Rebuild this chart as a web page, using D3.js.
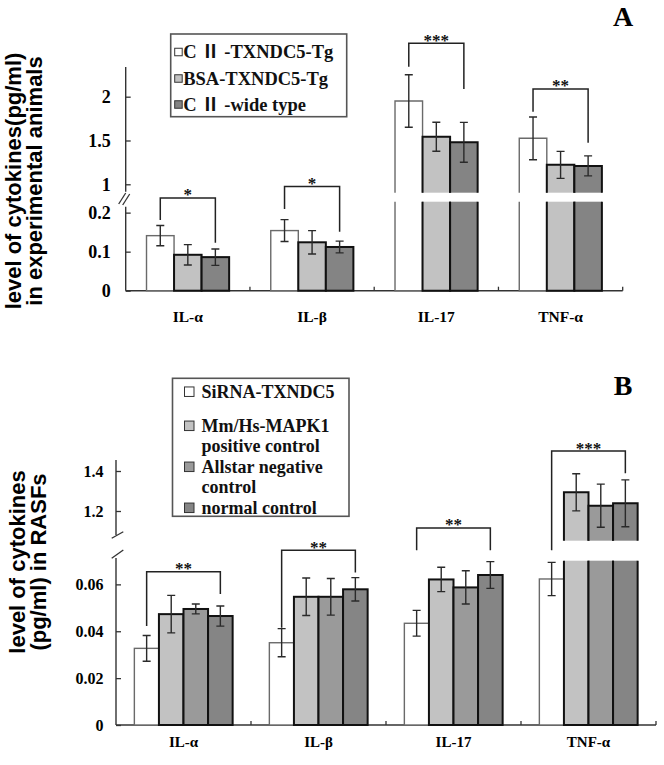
<!DOCTYPE html>
<html><head><meta charset="utf-8">
<script src="https://cdn.jsdelivr.net/npm/d3@7"></script>
<style>body{margin:0;background:#fff}svg{display:block}</style>
</head><body>
<svg id="chart" width="664" height="765"></svg>
<script>
// ---------------- DATA ----------------
const categories = ["IL-α", "IL-β", "IL-17", "TNF-α"];

// Panel A
const seriesA = ["C Ⅱ -TXNDC5-Tg", "BSA-TXNDC5-Tg", "C Ⅱ -wide type"];
const valuesA_TXNDC5Tg = [0.141, 0.154, 1.951, 1.525];
const valuesA_BSA      = [0.092, 0.124, 1.543, 1.222];
const valuesA_wild     = [0.086, 0.112, 1.479, 1.210];
const errorsA_TXNDC5Tg = [0.026, 0.028, 0.300, 0.244];
const errorsA_BSA      = [0.026, 0.030, 0.166, 0.154];
const errorsA_wild     = [0.021, 0.015, 0.228, 0.114];
const ticksA_low  = [0, 0.1, 0.2];
const tickLabelsA_low  = ["0", "0.1", "0.2"];
const ticksA_high = [1, 1.5, 2];
const tickLabelsA_high = ["1", "1.5", "2"];
const sigA = ["*", "*", "***", "**"];
const bracketTopA   = [0.2377, 0.2667, 2.61, 2.088];
const bracketLeftA  = [0.181, 0.2095, 2.342, 1.829];
const bracketRightA = [0.123, 0.151, 2.088, 1.475];

// Panel B
const legendLinesB = [["SiRNA-TXNDC5"], ["Mm/Hs-MAPK1", "positive control"], ["Allstar negative", "control"], ["normal control"]];
const valuesB_siRNA    = [0.0327, 0.0351, 0.0434, 0.0623];
const valuesB_MAPK1    = [0.0473, 0.0547, 0.0621, 1.2935];
const valuesB_allstar  = [0.0495, 0.0547, 0.0587, 1.2265];
const valuesB_normal   = [0.0465, 0.0579, 0.0640, 1.2385];
const errorsB_siRNA    = [0.0055, 0.0060, 0.0055, 0.0071];
const errorsB_MAPK1    = [0.0080, 0.0080, 0.0052, 0.093];
const errorsB_allstar  = [0.0021, 0.0078, 0.0071, 0.108];
const errorsB_normal   = [0.0043, 0.0050, 0.0057, 0.117];
const ticksB_low  = [0, 0.02, 0.04, 0.06];
const tickLabelsB_low  = ["0", "0.02", "0.04", "0.06"];
const ticksB_high = [1.2, 1.4];
const tickLabelsB_high = ["1.2", "1.4"];
const sigB = ["**", "**", "**", "***"];
const bracketTopB   = [0.0654, 0.0746, 0.0841, 1.5];
const bracketLeftB  = [0.0422, 0.0415, 0.0746, 0.0746];
const bracketRightB = [0.0559, 0.0651, 0.0746, 1.3885];

// ---------------- DRAWING ----------------
const svg = d3.select("#chart");
const SERIF = "'Liberation Serif','Times New Roman','Noto Sans CJK SC',serif";
const SANS = "'Liberation Sans',Arial,sans-serif";

function drawPanel(c) {
  const g = svg.append("g");
  const x = d3.scaleBand().domain(categories).range(c.xRange)
    .paddingInner(c.padInner).paddingOuter(c.padInner / 2);
  const xi = d3.scaleBand().domain(d3.range(c.values.length)).range([0, x.bandwidth()]);
  const yLow = d3.scaleLinear().domain(c.lowDomain).range(c.lowRange);
  const yHigh = d3.scaleLinear().domain(c.highDomain).range(c.highRange);
  const split = (c.lowDomain[1] + c.highDomain[0]) / 2;
  const yv = v => v < split ? yLow(v) : yHigh(v);
  const y0 = yLow(0);

  // y axes
  const axL = g.append("g").attr("transform", `translate(${c.xRange[0]},0)`)
    .call(d3.axisLeft(yLow).tickValues(c.ticksLow).tickFormat((d, i) => c.tickLabelsLow[i])
      .tickSize(-5).tickSizeOuter(0).tickPadding(c.tickPad));
  const axH = g.append("g").attr("transform", `translate(${c.xRange[0]},0)`)
    .call(d3.axisLeft(yHigh).tickValues(c.ticksHigh).tickFormat((d, i) => c.tickLabelsHigh[i])
      .tickSize(-5).tickSizeOuter(0).tickPadding(c.tickPad));
  [axL, axH].forEach(a => {
    a.select(".domain").remove();
    a.selectAll(".tick line").attr("stroke", "#333").attr("stroke-width", 1.3);
    a.selectAll(".tick text").attr("fill", "#000").style("font-family", SERIF)
      .style("font-weight", "bold").style("font-size", c.tickFont + "px");
  });
  const ax = c.xRange[0];
  g.append("line").attr("x1", ax).attr("x2", ax).attr("y1", c.highRange[1]).attr("y2", c.axisHighEnd)
    .attr("stroke", "#333").attr("stroke-width", 1.4);
  g.append("line").attr("x1", ax).attr("x2", ax).attr("y1", c.axisLowStart).attr("y2", y0)
    .attr("stroke", "#333").attr("stroke-width", 1.4);
  c.slashes.forEach(s => {
    g.append("line").attr("x1", ax + s[0]).attr("y1", s[1]).attr("x2", ax + s[2]).attr("y2", s[3])
      .attr("stroke", "#333").attr("stroke-width", 1.3);
  });

  // x axis line and boundary ticks
  g.append("line").attr("x1", c.xRange[0]).attr("x2", c.xRange[1]).attr("y1", y0).attr("y2", y0)
    .attr("stroke", "#333").attr("stroke-width", 1.4);
  categories.forEach(cat => {
    const bx = x(cat) + x.bandwidth() + x.step() * x.paddingInner() / 2;
    g.append("line").attr("x1", bx).attr("x2", bx).attr("y1", y0).attr("y2", y0 - 4)
      .attr("stroke", "#333").attr("stroke-width", 1.3);
  });
  const axB = g.append("g").attr("transform", `translate(0,${y0})`)
    .call(d3.axisBottom(x).tickSize(0).tickPadding(c.catPad));
  axB.select(".domain").remove();
  axB.selectAll(".tick text").attr("fill", "#000").style("font-family", SERIF)
    .style("font-weight", "bold").style("font-size", c.catFont + "px");

  // bars
  c.values.forEach((vals, j) => {
    categories.forEach((cat, i) => {
      const v = vals[i];
      const x0 = x(cat) + xi(j), w = xi.bandwidth();
      const stroke = j === 0 ? "#6a6a6a" : "#111";
      const sw = j === 0 ? 1.4 : 2;
      if (v < split) {
        g.append("rect").attr("x", x0).attr("y", yLow(v)).attr("width", w).attr("height", y0 - yLow(v))
          .attr("fill", c.colors[j]).attr("stroke", stroke).attr("stroke-width", sw);
      } else {
        const yt = yHigh(v), yb = c.highRange[0];
        g.append("rect").attr("x", x0).attr("y", yt).attr("width", w).attr("height", yb - yt).attr("fill", c.colors[j]);
        g.append("path").attr("d", `M${x0},${yb}V${yt}H${x0 + w}V${yb}`).attr("fill", "none")
          .attr("stroke", stroke).attr("stroke-width", sw);
        const lt = c.lowRange[1];
        g.append("rect").attr("x", x0).attr("y", lt).attr("width", w).attr("height", y0 - lt).attr("fill", c.colors[j]);
        g.append("path").attr("d", `M${x0},${lt}V${y0}H${x0 + w}V${lt}`).attr("fill", "none")
          .attr("stroke", stroke).attr("stroke-width", sw);
      }
    });
  });
  // error bars
  c.values.forEach((vals, j) => {
    categories.forEach((cat, i) => {
      const v = vals[i], e = c.errors[j][i];
      const cx = x(cat) + xi(j) + xi.bandwidth() / 2;
      const ya = yv(v + e), yb = yv(v - e);
      g.append("path").attr("d", `M${cx},${ya}V${yb}M${cx - 4},${ya}H${cx + 4}M${cx - 4},${yb}H${cx + 4}`)
        .attr("fill", "none").attr("stroke", "#2a2a2a").attr("stroke-width", 1.4);
    });
  });
  // significance brackets
  const nS = c.values.length;
  categories.forEach((cat, i) => {
    const xl = x(cat) + xi(0) + xi.bandwidth() / 2;
    const xr = x(cat) + xi(nS - 1) + xi.bandwidth() / 2;
    const yt = yv(c.bracketTop[i]);
    g.append("path").attr("d", `M${xl},${yv(c.bracketLeft[i])}V${yt}H${xr}V${yv(c.bracketRight[i])}`)
      .attr("fill", "none").attr("stroke", "#222").attr("stroke-width", 1.5);
    g.append("text").attr("x", (xl + xr) / 2).attr("y", yt + 2.5).attr("text-anchor", "middle")
      .style("font-family", SERIF).style("font-size", "17px").style("font-weight", "bold")
      .attr("fill", "#111").text(c.sig[i]);
  });

  // legend
  const L = c.legend;
  g.append("rect").attr("x", L.x).attr("y", L.y).attr("width", L.w).attr("height", L.h)
    .attr("fill", "#fff").attr("stroke", "#555").attr("stroke-width", 1.6);
  c.legendLines.forEach((lines, j) => {
    const cy = L.y + L.rowY[j];
    g.append("rect").attr("x", L.x + L.sqX).attr("y", cy - L.sq / 2).attr("width", L.sq).attr("height", L.sq)
      .attr("fill", c.colors[j]).attr("stroke", "#333").attr("stroke-width", 1);
    lines.forEach((t, k) => {
      g.append("text").attr("x", L.x + L.textX).attr("y", cy + k * L.lineGap + L.font * 0.33)
        .style("font-family", SERIF).style("font-weight", "bold").style("font-size", L.font + "px")
        .attr("fill", "#111").text(t);
    });
  });

  // y title
  const tt = g.append("text").attr("transform", `translate(0,${c.titleY}) rotate(-90)`)
    .attr("text-anchor", "middle").style("font-family", SANS).style("font-weight", "bold")
    .style("font-size", "22px").attr("fill", "#000");
  c.title.forEach((t, k) => tt.append("tspan").attr("x", 0).attr("y", c.titleX[k]).text(t));

  // panel letter
  g.append("text").attr("x", c.letterPos[0]).attr("y", c.letterPos[1]).attr("text-anchor", "middle")
    .style("font-family", SERIF).style("font-weight", "bold").style("font-size", "28px")
    .attr("fill", "#000").text(c.letter);
}

drawPanel({
  values: [valuesA_TXNDC5Tg, valuesA_BSA, valuesA_wild],
  errors: [errorsA_TXNDC5Tg, errorsA_BSA, errorsA_wild],
  colors: ["#ffffff", "#c2c2c2", "#848484"],
  xRange: [125.7, 622.7], padInner: 0.335,
  lowDomain: [0, 0.228], lowRange: [290.7, 201.7],
  highDomain: [0.904, 2.339], highRange: [192.7, 67],
  axisHighEnd: 191.7, axisLowStart: 206.7,
  slashes: [[-7, 204, 0, 193], [-3, 205, 4, 194]],
  ticksLow: ticksA_low, tickLabelsLow: tickLabelsA_low,
  ticksHigh: ticksA_high, tickLabelsHigh: tickLabelsA_high,
  tickPad: 15, tickFont: 18, catPad: 20, catFont: 15.5,
  sig: sigA, bracketTop: bracketTopA, bracketLeft: bracketLeftA, bracketRight: bracketRightA,
  legend: {x: 170.7, y: 34, w: 176, h: 82.7, rowY: [18, 44.5, 70.5], sq: 7.5, sqX: 4, textX: 12.5, font: 18.5, lineGap: 20},
  legendLines: seriesA.map(s => [s]),
  title: ["level of cytokines(pg/ml)", "in experimental animals"], titleX: [20.5, 41.5], titleY: 181,
  letter: "A", letterPos: [623, 26]
});

drawPanel({
  values: [valuesB_siRNA, valuesB_MAPK1, valuesB_allstar, valuesB_normal],
  errors: [errorsB_siRNA, errorsB_MAPK1, errorsB_allstar, errorsB_normal],
  colors: ["#ffffff", "#c2c2c2", "#9a9a9a", "#858585"],
  xRange: [116, 656], padInner: 0.272,
  lowDomain: [0, 0.0701], lowRange: [725, 560.7],
  highDomain: [1.0515, 1.455], highRange: [540.7, 460],
  axisHighEnd: 535, axisLowStart: 558,
  slashes: [[-4.3, 538.3, 7.3, 531.7], [-4.3, 558.3, 7.3, 550]],
  ticksLow: ticksB_low, tickLabelsLow: tickLabelsB_low,
  ticksHigh: ticksB_high, tickLabelsHigh: tickLabelsB_high,
  tickPad: 12.5, tickFont: 16, catPad: 11, catFont: 15,
  sig: sigB, bracketTop: bracketTopB, bracketLeft: bracketLeftB, bracketRight: bracketRightB,
  legend: {x: 172.5, y: 378.3, w: 176.5, h: 138, rowY: [13.4, 47.5, 88.5, 129.5], sq: 9.5, sqX: 12, textX: 29, font: 18, lineGap: 20.5},
  legendLines: legendLinesB,
  title: ["level of cytokines", "(pg/ml) in RASFs"], titleX: [25, 46], titleY: 562,
  letter: "B", letterPos: [623, 395]
});
</script>
</body></html>
